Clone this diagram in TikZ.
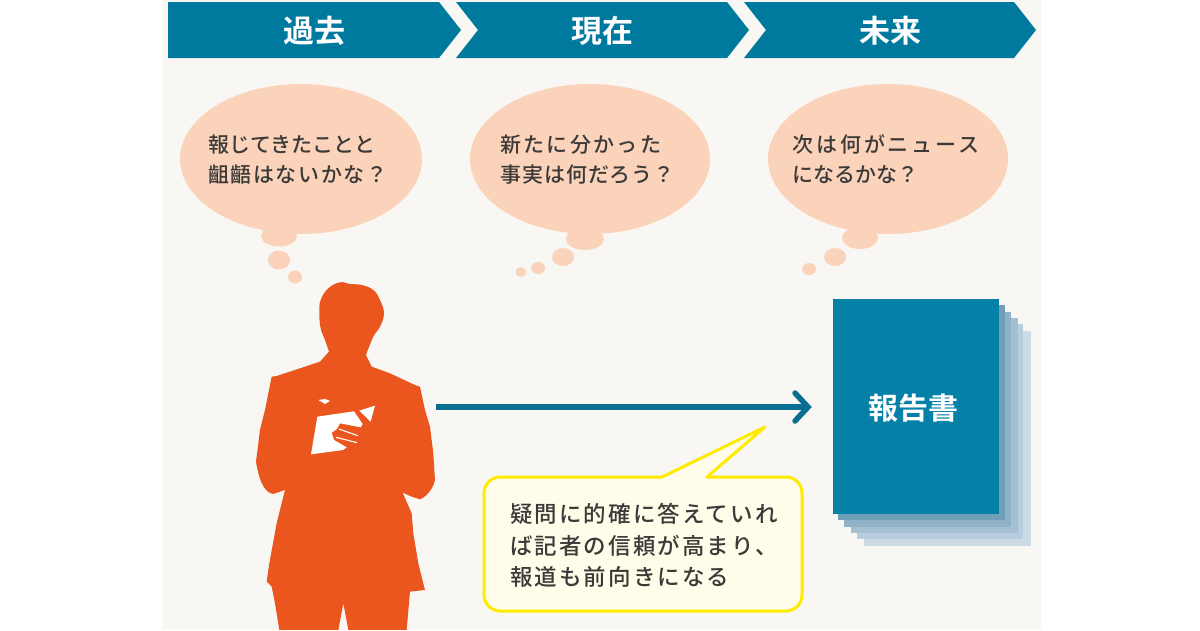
\documentclass[tikz,border=0pt]{standalone}
\usepackage{fontspec}
\setmainfont{Noto Sans CJK JP Medium}
\newfontfamily\jpb{Noto Sans CJK JP Bold}
\newcommand{\spc}[2]{{\addfontfeature{LetterSpace=#1}#2}}
\definecolor{panel}{HTML}{F8F7F3}
\definecolor{banner}{HTML}{00799F}
\definecolor{docblue}{HTML}{0580A6}
\definecolor{peach}{HTML}{FBD3BA}
\definecolor{figure}{HTML}{EB561F}
\definecolor{ink}{HTML}{3C3A38}
\definecolor{arrowblue}{HTML}{0A6E92}
\definecolor{calloutline}{HTML}{FFEB00}
\definecolor{calloutfill}{HTML}{FFFDE9}
\tikzset{
  bannerbox/.style={fill=banner,draw=none},
  bannertext/.style={text=white,font=\jpb\fontsize{31}{32}\selectfont,inner sep=0pt},
  cloud/.style={fill=peach,draw=none},
  cloudtext/.style={text=ink,font=\fontsize{21}{30}\selectfont,inner sep=0pt,anchor=north west,align=left},
  sheet/.style={draw=none},
}
\begin{document}
\begin{tikzpicture}[x=1pt,y=-1pt]
\useasboundingbox (0,0) rectangle (1200,630);
\fill[white] (0,0) rectangle (1200,630);
\fill[panel] (162,0) rectangle (1041,630);

% banners
\fill[bannerbox] (168,2) -- (439,2) -- (461,30) -- (439,58) -- (168,58) -- cycle;
\fill[bannerbox] (456,2) -- (727,2) -- (749,30) -- (727,58) -- (456,58) -- (478,30) -- cycle;
\fill[bannerbox] (744,2) -- (1014,2) -- (1036,30) -- (1014,58) -- (744,58) -- (766,30) -- cycle;
\node[bannertext] (past) at (314,30.5) {過去};
\node[bannertext] (present) at (602,30.5) {現在};
\node[bannertext] (future) at (890,30.5) {未来};

% thought bubbles
\fill[cloud] (301,159) ellipse [x radius=121,y radius=75];
\fill[cloud] (279,236) ellipse [x radius=18,y radius=10.5];
\fill[cloud] (279,260) ellipse [x radius=11,y radius=9.5];
\fill[cloud] (295,277) ellipse [x radius=7,y radius=6.5];
\fill[cloud] (590,159) ellipse [x radius=120,y radius=75];
\fill[cloud] (585,239) ellipse [x radius=19,y radius=11];
\fill[cloud] (563,257) ellipse [x radius=11,y radius=9];
\fill[cloud] (538,268) ellipse [x radius=7,y radius=6];
\fill[cloud] (521,272) ellipse [x radius=5.5,y radius=5];
\fill[cloud] (888,159) ellipse [x radius=120,y radius=75];
\fill[cloud] (860,238) ellipse [x radius=18,y radius=11];
\fill[cloud] (835,257) ellipse [x radius=11,y radius=9];
\fill[cloud] (809,269) ellipse [x radius=7,y radius=6];
\node[cloudtext] (q1) at (208,134.5) {報じてきたことと\\\spc{7.5}{齟齬はないかな？}};
\node[cloudtext] (q2) at (500,134.5) {\spc{11}{新たに分かった}\\\spc{5}{事実は何だろう？}};
\node[cloudtext] (q3) at (792,134.5) {\spc{14}{次は何がニュース}\\\spc{0}{になるかな？}};

% silhouette
\begin{scope}[shift={(230,270)},x=0.3333pt,y=-0.3333pt]
\fill[figure] plot[smooth,tension=0.7] coordinates {(297,245) (285,210) (272,175) (268,130) (272,90) (295,55) (330,37) (360,42) (395,45) (430,60) (450,90) (462,130) (450,170) (430,200) (408,255)}
  -- (425,290) -- (480,310) -- (555,345) -- (570,350) -- (585,420) -- (600,470) -- (610,550) -- (615,630)
  .. controls (610,655) and (590,680) .. (570,688) -- (545,680) -- (518,668) -- (545,730) -- (550,790) -- (565,880) -- (585,960) -- (540,965) -- (530,1080) -- (355,1080) -- (340,1000) -- (325,1080) -- (148,1080) -- (135,1000) -- (125,950) -- (110,935) -- (118,880) -- (140,760) -- (165,660) -- (130,672)
  .. controls (110,668) and (90,650) .. (78,575) -- (90,480) -- (105,420) -- (125,320) -- (140,318) -- (270,275) -- cycle;
\fill[white] (243,553) -- (262,440) -- (372,424) -- (398,462) -- (392,472) -- (330,460) -- (320,478) -- (305,488) -- (312,510) -- (350,532) -- (340,540) -- cycle;
\fill[white] (388,422) -- (435,407) -- (422,455) -- cycle;
\fill[white] (265,390) -- (285,387) -- (300,393) -- (285,402) -- cycle;
\draw[white,line width=1.1pt] (327,477) -- (383,497);
\draw[white,line width=1.1pt] (318,502) -- (381,518);
\end{scope}

% report stack
\fill[sheet,fill={rgb,255:red,204;green,218;blue,230}] (864,331) rectangle (1031,546);
\fill[sheet,fill={rgb,255:red,184;green,205;blue,221}] (857,324) rectangle (1023,539);
\fill[sheet,fill={rgb,255:red,166;green,192;blue,211}] (851,318) rectangle (1018,533);
\fill[sheet,fill={rgb,255:red,143;green,178;blue,200}] (844,312) rectangle (1011,527);
\fill[sheet,fill={rgb,255:red,111;green,159;blue,184}] (838,305) rectangle (1005,520);
\fill[sheet,fill=docblue] (832.5,299) rectangle (999,514);
\node[text=white,font=\jpb\fontsize{30}{32}\selectfont,inner sep=0pt] (report) at (913,408) {報告書};

% arrow
\coordinate (arrS) at (436,407);
\coordinate (arrE) at (808,407);
\coordinate (arrA) at (795,393);
\coordinate (arrB) at (795,421);
\draw[arrowblue,line width=5.5pt] (arrS) -- (arrE);
\draw[arrowblue,line width=5.5pt,line join=miter,line cap=round] (arrA) -- (arrE) -- (arrB);

% callout
\draw[calloutline,fill=calloutfill,line width=3pt,line join=round]
  (662,477) -- (765,427) -- (707,477) -- (786,477)
  arc[start angle=-90,end angle=0,radius=16] -- (802,595)
  arc[start angle=0,end angle=90,radius=16] -- (500,611)
  arc[start angle=90,end angle=180,radius=16] -- (484,493)
  arc[start angle=180,end angle=270,radius=16] -- cycle;
\node[text=ink,inner sep=0pt,anchor=north west,align=left,font=\fontsize{22.5}{31.5}\selectfont\addfontfeature{LetterSpace=9.3}] (note) at (510,503) {疑問に的確に答えていれ\\ば記者の信頼が高まり、\\報道も前向きになる};
\end{tikzpicture}
\end{document}
